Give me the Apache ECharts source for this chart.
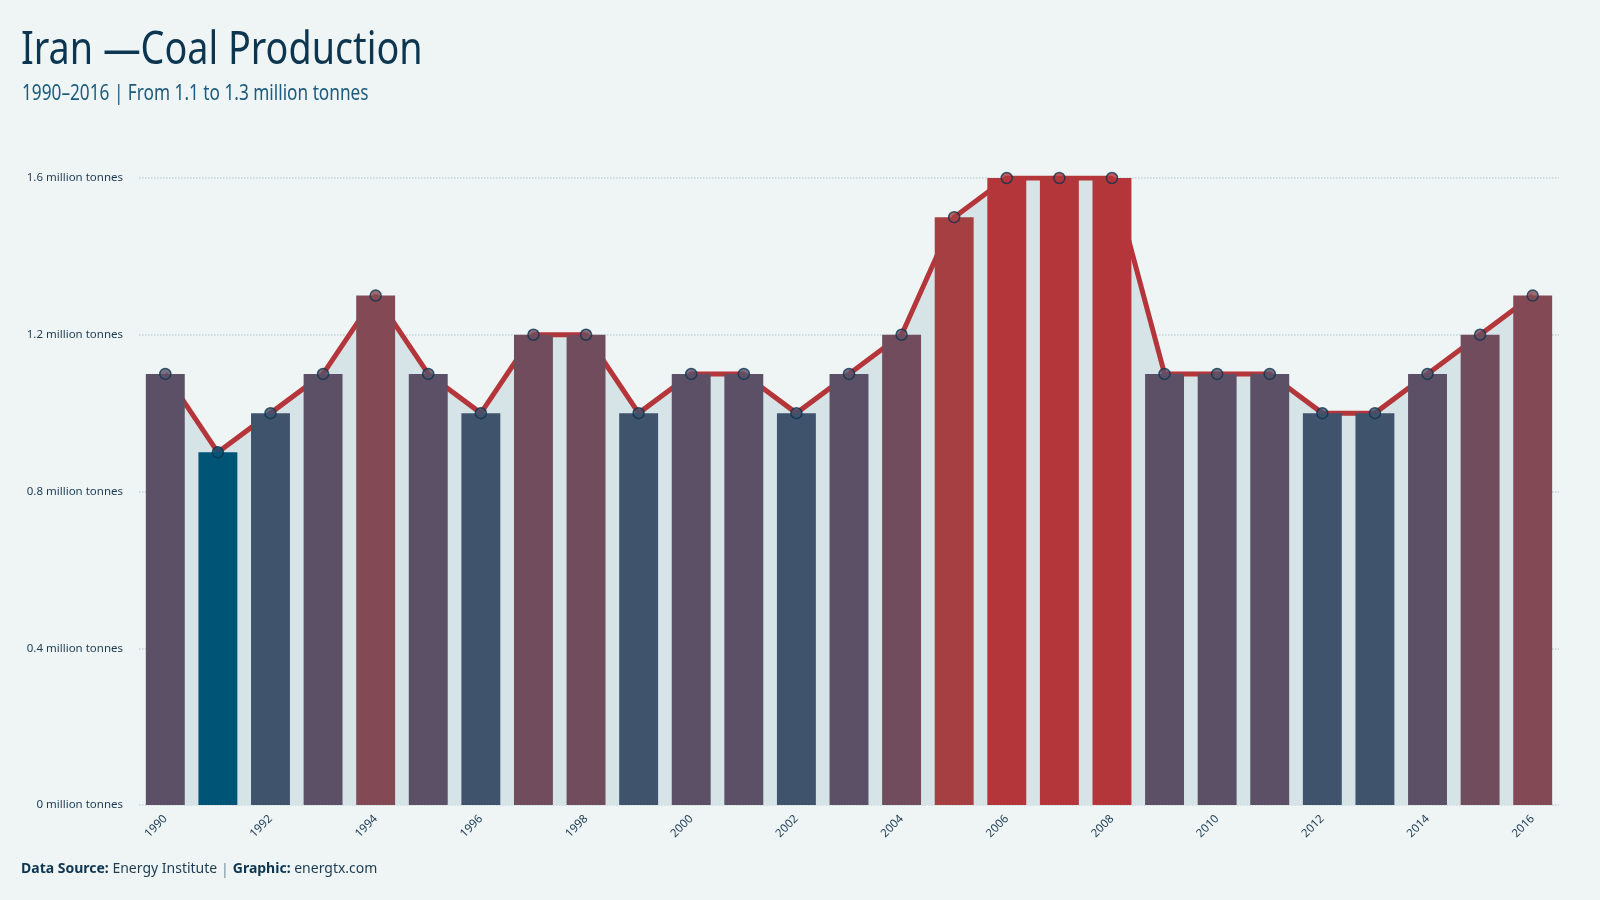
<!DOCTYPE html>
<html>
<head>
<meta charset="utf-8">
<script src="https://cdn.jsdelivr.net/npm/echarts@6/dist/echarts.min.js"></script>
<style>
  html, body { margin: 0; padding: 0; background: #eff5f5; }
  #main { width: 1600px; height: 900px; }
</style>
</head>
<body>
<div id="main"></div>
<script>
var years = ['1990', '1991', '1992', '1993', '1994', '1995', '1996', '1997', '1998', '1999',
	'2000', '2001', '2002', '2003', '2004', '2005', '2006', '2007', '2008', '2009',
	'2010', '2011', '2012', '2013', '2014', '2015', '2016'];
var production = [1.1, 0.9, 1.0, 1.1, 1.3, 1.1, 1.0, 1.2, 1.2, 1.0,
	1.1, 1.1, 1.0, 1.1, 1.2, 1.5, 1.6, 1.6, 1.6, 1.1,
	1.1, 1.1, 1.0, 1.0, 1.1, 1.2, 1.3];
var yTicks = [0, 0.4, 0.8, 1.2, 1.6];

var chart = echarts.init(document.getElementById('main'));
var labelFont = '"Noto Sans", "Open Sans", sans-serif';
var titleFont = '"Noto Sans", sans-serif';

chart.setOption({
	backgroundColor: '#eff5f5',
	graphic: [{
		type: 'text',
		x: 21,
		y: 28,
		scaleX: 0.82,
		style: {
			text: 'Iran \u2014Coal Production',
			fill: '#0c3550',
			font: 'normal 46px ' + titleFont,
			textVerticalAlign: 'top'
		}
	}, {
		type: 'text',
		x: 22,
		y: 84,
		scaleX: 0.82,
		style: {
			text: '1990\u20132016 | From 1.1 to 1.3 million tonnes',
			fill: '#1b5b7d',
			font: 'normal 21px ' + titleFont,
			textVerticalAlign: 'top'
		}
	}, {
		type: 'text',
		left: 21,
		top: 862,
		style: {
			text: '{b|Data Source:} Energy Institute {p||} {b|Graphic:} energtx.com',
			fill: '#1b3a52',
			font: '14px ' + labelFont,
			rich: {
				b: { fontWeight: 'bold', fontSize: 14, fontFamily: labelFont, fill: '#0c3550' },
				p: { fontSize: 15, fontFamily: labelFont, fill: '#7a95a5' }
			}
		}
	}],
	grid: {
		left: 139,
		right: 41,
		top: 178,
		bottom: 95
	},
	visualMap: {
		show: false,
		type: 'continuous',
		seriesIndex: [1, 2],
		dimension: 1,
		min: 0.9,
		max: 1.6,
		inRange: {
			color: ['#005577', '#3f536d', '#5b5066', '#714c5c', '#834a55', '#954548', '#a63f42', '#b4363a']
		}
	},
	xAxis: {
		type: 'category',
		data: years,
		boundaryGap: true,
		axisLine: { show: false },
		axisTick: { show: false },
		axisLabel: {
			interval: 1,
			rotate: 45,
			margin: 12,
			fontSize: 11.5,
			fontFamily: labelFont,
			color: '#1b3a52'
		}
	},
	yAxis: {
		type: 'value',
		min: 0,
		max: 1.6,
		interval: 0.4,
		axisLine: { show: false },
		axisTick: { show: false },
		axisLabel: {
			margin: 16,
			fontSize: 11.5,
			fontFamily: labelFont,
			color: '#1b3a52',
			formatter: function (v) {
				var t = yTicks.find(function (k) { return Math.abs(k - v) < 1e-6; });
				return (t === undefined ? v : t) + ' million tonnes';
			}
		},
		splitLine: {
			lineStyle: { color: '#c3d2d7', type: 'dotted', width: 1.5 }
		}
	},
	series: [{
		name: 'Trend',
		type: 'line',
		data: production,
		z: 1,
		showSymbol: false,
		lineStyle: { color: '#b5363a', width: 5 },
		areaStyle: { color: '#d6e3e7', opacity: 1 },
		silent: true
	}, {
		name: 'Production',
		type: 'bar',
		data: production,
		z: 2,
		barCategoryGap: '26%'
	}, {
		name: 'Points',
		type: 'scatter',
		data: production.map(function (v, i) { return [years[i], v]; }),
		z: 3,
		symbol: 'circle',
		symbolSize: 11,
		itemStyle: { borderColor: '#0c3550', borderWidth: 1.5 }
	}]
});
</script>
</body>
</html>
